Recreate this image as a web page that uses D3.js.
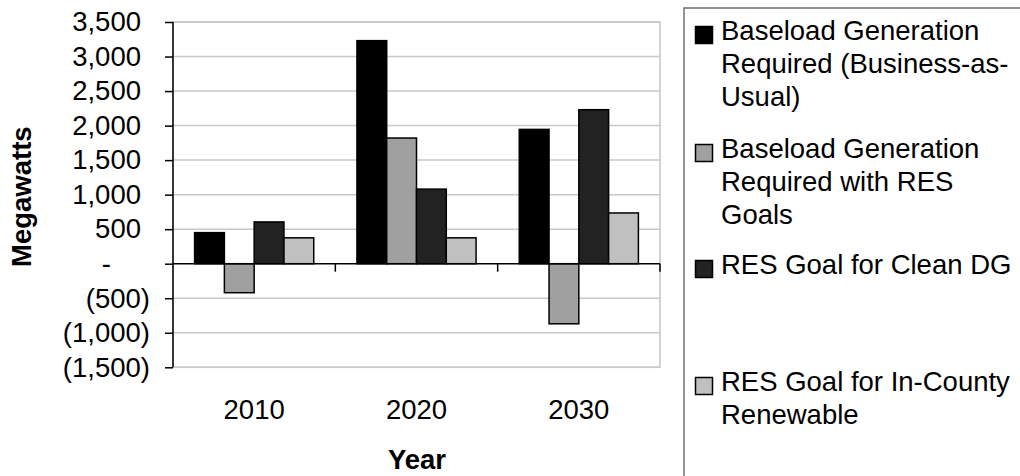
<!DOCTYPE html>
<html>
<head>
<meta charset="utf-8">
<script src="https://cdn.jsdelivr.net/npm/d3@7"></script>
<style>
  html, body { margin: 0; padding: 0; background: #fff; }
  svg { display: block; font-family: "Liberation Sans", Arial, sans-serif; }
</style>
</head>
<body>
<svg id="chart" width="1020" height="476"></svg>
<script>
// Categories and series (megawatts)
const years = ["2010", "2020", "2030"];
const seriesNames = [
  "Baseload Generation Required (Business-as-Usual)",
  "Baseload Generation Required with RES Goals",
  "RES Goal for Clean DG",
  "RES Goal for In-County Renewable"
];
const legendLines = [
  ["Baseload Generation", "Required (Business-as-", "Usual)"],
  ["Baseload Generation", "Required with RES", "Goals"],
  ["RES Goal for Clean DG"],
  ["RES Goal for In-County", "Renewable"]
];
const baseloadBAU = [450, 3230, 1945];
const baseloadRES = [-420, 1820, -870];
const cleanDG = [605, 1080, 2230];
const inCountyRenewable = [375, 375, 735];
const yTicks = [-1500, -1000, -500, 0, 500, 1000, 1500, 2000, 2500, 3000, 3500];

const seriesValues = [baseloadBAU, baseloadRES, cleanDG, inCountyRenewable];
const fills = ["#000000", "#a0a0a0", "#222222", "#c0c0c0"];

const svg = d3.select("#chart");
const plot = { left: 173, right: 660, top: 22, bottom: 367.3 };

const y = d3.scaleLinear().domain([-1500, 3500]).range([plot.bottom, plot.top]);
const x0 = d3.scaleBand().domain(years).range([plot.left, plot.right]).padding(0);
const groupW = x0.bandwidth() * 4 / 5.45;
const x1 = d3.scaleBand().domain(d3.range(4)).range([0, groupW]).padding(0);

// plot area frame
svg.append("rect")
  .attr("x", plot.left).attr("y", plot.top)
  .attr("width", plot.right - plot.left).attr("height", plot.bottom - plot.top)
  .attr("fill", "none").attr("stroke", "#c4c4c4").attr("stroke-width", 1.5);

// horizontal gridlines
svg.append("g").selectAll("line")
  .data(yTicks.filter(v => v !== 0))
  .join("line")
  .attr("x1", plot.left).attr("x2", plot.right)
  .attr("y1", d => y(d)).attr("y2", d => y(d))
  .attr("stroke", "#c8c8c8").attr("stroke-width", 1.5);

// bars
const rows = years.map((yr, i) => ({ yr, vals: seriesValues.map(s => s[i]) }));
svg.append("g").selectAll("g")
  .data(rows)
  .join("g")
  .attr("transform", d => `translate(${x0(d.yr) + (x0.bandwidth() - groupW) / 2},0)`)
  .selectAll("rect")
  .data(d => d.vals.map((v, k) => ({ v, k })))
  .join("rect")
  .attr("x", d => x1(d.k))
  .attr("width", x1.bandwidth())
  .attr("y", d => y(Math.max(0, d.v)))
  .attr("height", d => Math.abs(y(d.v) - y(0)))
  .attr("fill", d => fills[d.k])
  .attr("stroke", "#000").attr("stroke-width", 1.5);

// y axis (accounting-style labels)
const fmt = d3.format(",");
const yAxis = d3.axisLeft(y).tickValues(yTicks).tickSize(8).tickPadding(0)
  .tickFormat(v => v === 0 ? "-" : v < 0 ? `(${fmt(-v)})` : fmt(v));
const gy = svg.append("g").attr("transform", `translate(${plot.left},0)`).call(yAxis);
gy.select(".domain").attr("stroke", "#000").attr("stroke-width", 1.5)
  .attr("d", `M0,${plot.top}V${plot.bottom}`);
gy.selectAll(".tick line").attr("stroke", "#000").attr("stroke-width", 1.5);
gy.selectAll(".tick text")
  .attr("x", -23)
  .attr("dx", v => v === 0 ? -39 : v < 0 ? 0 : -9)
  .attr("fill", "#000")
  .style("font-size", "27.5px");

// category axis along zero
const xAxis = d3.axisBottom(x0).tickSize(0).tickFormat("");
const gx = svg.append("g").attr("transform", `translate(0,${y(0)})`).call(xAxis);
gx.select(".domain").attr("stroke", "#000").attr("stroke-width", 1.5)
  .attr("d", `M${plot.left},0H${plot.right}`);
gx.selectAll(".tick").remove();
svg.append("g").selectAll("line")
  .data(years)
  .join("line")
  .attr("x1", d => x0(d) + x0.bandwidth()).attr("x2", d => x0(d) + x0.bandwidth())
  .attr("y1", y(0)).attr("y2", y(0) + 8)
  .attr("stroke", "#000").attr("stroke-width", 1.5);

// category labels
svg.append("g").selectAll("text")
  .data(years)
  .join("text")
  .attr("x", d => x0(d) + x0.bandwidth() / 2)
  .attr("y", 418.5)
  .attr("text-anchor", "middle")
  .style("font-size", "27.5px")
  .text(d => d);

// axis titles
svg.append("text")
  .attr("x", plot.left + (plot.right - plot.left) / 2 + 0.5)
  .attr("y", 469)
  .attr("text-anchor", "middle")
  .style("font-size", "27.5px").style("font-weight", "bold")
  .text("Year");
svg.append("text")
  .attr("transform", `translate(31,${(plot.top + plot.bottom) / 2 + 2}) rotate(-90)`)
  .attr("text-anchor", "middle")
  .style("font-size", "27.5px").style("font-weight", "bold")
  .text("Megawatts");

// legend
const legend = svg.append("g");
legend.append("path")
  .attr("d", "M684,480V8H1024")
  .attr("fill", "none").attr("stroke", "#707070").attr("stroke-width", 1.5);
const itemBaselines = [40, 158, 274, 391];
const lineH = 33;
const items = legend.selectAll("g.item")
  .data(seriesNames.map((n, k) => ({ n, k, lines: legendLines[k] })))
  .join("g").attr("class", "item")
  .attr("transform", d => `translate(0,${itemBaselines[d.k]})`);
items.append("rect")
  .attr("x", 695.5).attr("y", -13.5).attr("width", 17).attr("height", 17)
  .attr("fill", d => fills[d.k]).attr("stroke", "#000").attr("stroke-width", 1.5);
items.append("text")
  .style("font-size", "27.5px")
  .selectAll("tspan")
  .data(d => d.lines)
  .join("tspan")
  .attr("x", 721).attr("y", (d, i) => i * lineH)
  .text(d => d);
</script>
</body>
</html>
